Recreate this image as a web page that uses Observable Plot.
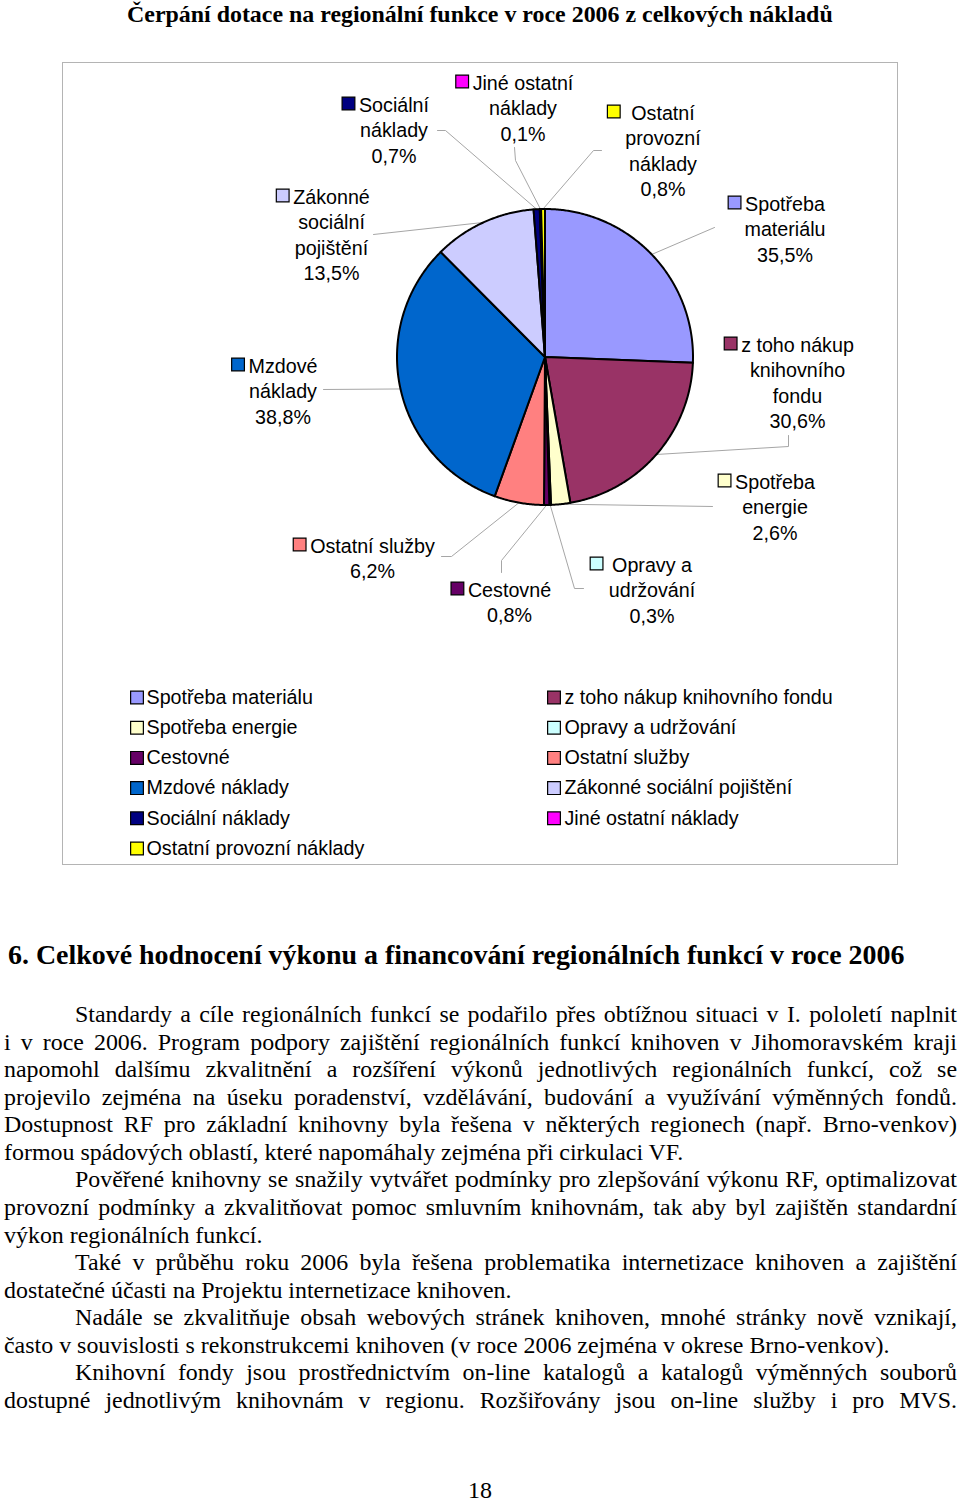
<!DOCTYPE html>
<html><head><meta charset="utf-8">
<script src="https://cdn.jsdelivr.net/npm/d3@7"></script>
<script src="https://cdn.jsdelivr.net/npm/@observablehq/plot@0.6"></script>
<style>
html,body{margin:0;padding:0;background:#fff}
body{width:960px;height:1501px;position:relative;overflow:hidden;font-family:"Liberation Serif","Times New Roman",serif;color:#000}
.abs{position:absolute;white-space:nowrap;line-height:1}
#title{font-weight:bold;font-size:24px}
#heading{font-weight:bold;font-size:27px}
#frame{position:absolute;left:62px;top:62px;width:836px;height:803px;border:1.5px solid #b4b4b4;box-sizing:border-box}
#chart{position:absolute;left:62px;top:62px}
#body{position:absolute;left:4px;top:1001px;width:953px}
.ln{height:27.57px;line-height:27.57px;text-align:justify;text-align-last:justify;overflow:visible}
.ln.last{text-align:left;text-align-last:left}
.ln.first{text-indent:71px}
</style></head>
<body>
<div id="title" class="abs">Čerpání dotace na regionální funkce v roce 2006 z celkových nákladů</div>
<div id="frame"></div>
<div id="chart"></div>
<div id="heading" class="abs">6. Celkové hodnocení výkonu a financování regionálních funkcí v roce 2006</div>
<div id="body"></div>
<div id="pageno" class="abs" style="font-size:24px">18</div>
<script>
// ---------- data ----------
const categories = ["Spotřeba materiálu","z toho nákup knihovního fondu","Spotřeba energie","Opravy a udržování","Cestovné","Ostatní služby","Mzdové náklady","Zákonné sociální pojištění","Sociální náklady","Jiné ostatní náklady","Ostatní provozní náklady"];
// percentages printed in the data labels
const percentLabels = [35.5, 30.6, 2.6, 0.3, 0.8, 6.2, 38.8, 13.5, 0.7, 0.1, 0.8];
// slice sizes as drawn in the picture (share of the full circle, %)
const sliceShares = [25.6, 21.6, 2.1, 0.17, 0.58, 5.4, 32.0, 11.2, 0.67, 0.14, 0.42];
// wrapped category names used in the data labels
const labelNames = ["Spotřeba\nmateriálu","z toho nákup\nknihovního\nfondu","Spotřeba\nenergie","Opravy a\nudržování","Cestovné","Ostatní služby","Mzdové\nnáklady","Zákonné\nsociální\npojištění","Sociální\nnáklady","Jiné ostatní\nnáklady","Ostatní\nprovozní\nnáklady"];

// ---------- styles / layout ----------
const sliceColors = ["#9999FF","#993366","#FFFFCC","#CCFFFF","#660066","#FF8080","#0066CC","#CCCCFF","#000080","#FF00FF","#FFFF00"];
const W = 836, H = 803, OX = 62, OY = 62;      // chart box in page coordinates
const pieGeom = {cx: 544.5, cy: 356.5, r: 148};
const FS = 19.7, LH = 25.6;
// label anchor (text centre x, first line centre y), square gap, leader bend points
const labelLayout = [
  {x:784.5, y:202, gap:4,  path:[[714,227]]},
  {x:797,   y:343, gap:4,  path:[[788,446],[788,435]]},
  {x:774.5, y:480, gap:4,  path:[[712,506]]},
  {x:651.5, y:563, gap:9,  path:[[574,588],[583,588]]},
  {x:509,   y:588, gap:4,  path:[[501,560],[501,572]]},
  {x:372,   y:544, gap:4,  path:[[451,556],[441,556]]},
  {x:282.5, y:364, gap:4,  path:[[323,389]]},
  {x:331,   y:195, gap:4,  path:[[373,234]]},
  {x:393.5, y:103, gap:4,  path:[[445,130],[437,130]]},
  {x:522.5, y:81,  gap:4,  path:[[515,160],[514,147]]},
  {x:662.5, y:111, gap:11, path:[[593,150],[601,150]]}
];
const legendLayout = {colX:[136.5, 553.5], textX:[146, 564], y0:697, dy:30.2};

// ---------- geometry ----------
const arcs = d3.pie().sort(null).value(d => d)(sliceShares);
const pt = (a, rr) => ({x: pieGeom.cx + rr * Math.sin(a), y: pieGeom.cy - rr * Math.cos(a)});
const polyRows = [];
arcs.forEach((a, i) => {
  polyRows.push({k:i, x:pieGeom.cx, y:pieGeom.cy});
  const n = Math.max(2, Math.ceil((a.endAngle - a.startAngle) / (Math.PI / 360)));
  for (let j = 0; j <= n; j++) {
    const ang = a.startAngle + (a.endAngle - a.startAngle) * j / n;
    polyRows.push({k:i, ...pt(ang, pieGeom.r)});
  }
  polyRows.push({k:i, x:pieGeom.cx, y:pieGeom.cy});
});
const leaderRows = [];
arcs.forEach((a, i) => {
  const mid = (a.startAngle + a.endAngle) / 2;
  leaderRows.push({k:i, ...pt(mid, pieGeom.r)});
  labelLayout[i].path.forEach(p => leaderRows.push({k:i, x:p[0], y:p[1]}));
});
const fmt = v => v.toFixed(1).replace(".", ",") + "%";
const ctx = document.createElement("canvas").getContext("2d");
ctx.font = `${FS}px "Liberation Sans"`;
const labelRows = categories.map((c, i) => {
  const text = labelNames[i] + "\n" + fmt(percentLabels[i]);
  const nLines = text.split("\n").length;
  const L = labelLayout[i];
  const w1 = ctx.measureText(text.split("\n")[0]).width;
  return {k:i, text, x:L.x, y:L.y + (nLines - 1) * LH / 2, sx: L.x - w1 / 2 - L.gap - 6.5, sy: L.y};
});
const legendRows = categories.map((c, i) => ({
  k:i, text:c,
  sx: legendLayout.colX[i % 2], tx: legendLayout.textX[i % 2],
  y: legendLayout.y0 + Math.floor(i / 2) * legendLayout.dy
}));

const chart = Plot.plot({
  width: W, height: H,
  margin: 0,
  x: {type:"linear", domain:[OX, OX + W], range:[0, W], axis:null},
  y: {type:"linear", domain:[OY, OY + H], range:[0, H], axis:null},
  color: {type:"identity"},
  style: {fontFamily:'"Liberation Sans", Arial, sans-serif', background:"transparent", overflow:"visible"},
  marks: [
    Plot.line(leaderRows, {x:"x", y:"y", z:"k", stroke:"#a6a6a6", strokeWidth:1}),
    Plot.line(polyRows, {x:"x", y:"y", z:"k", fill:d => sliceColors[d.k], stroke:"#000", strokeWidth:2, strokeLinejoin:"round"}),
    Plot.text(labelRows, {x:"x", y:"y", text:"text", fontSize:FS, lineHeight:LH / FS, textAnchor:"middle", lineAnchor:"middle", fill:"#000"}),
    Plot.dot(labelRows, {x:"sx", y:"sy", symbol:"square", r:7.2, fill:d => sliceColors[d.k], stroke:"#000", strokeWidth:1.2}),
    Plot.dot(legendRows, {x:"sx", y:"y", symbol:"square", r:7.2, fill:d => sliceColors[d.k], stroke:"#000", strokeWidth:1.2}),
    Plot.text(legendRows, {x:"tx", y:"y", text:"text", fontSize:FS, textAnchor:"start", fill:"#000"})
  ]
});
document.getElementById("chart").appendChild(chart);

// ---------- page text ----------
const paragraphs = [
  ["Standardy a cíle regionálních funkcí se podařilo přes obtížnou situaci v\u00a0I. pololetí naplnit",
   "i v\u00a0roce 2006. Program podpory zajištění regionálních funkcí knihoven v\u00a0Jihomoravském kraji",
   "napomohl dalšímu zkvalitnění a\u00a0rozšíření výkonů jednotlivých regionálních funkcí, což se",
   "projevilo zejména na\u00a0úseku poradenství, vzdělávání, budování a\u00a0využívání výměnných fondů.",
   "Dostupnost RF pro základní knihovny byla řešena v\u00a0některých regionech (např. Brno-venkov)",
   "formou spádových oblastí, které napomáhaly zejména při cirkulaci VF."],
  ["Pověřené knihovny se snažily vytvářet podmínky pro zlepšování výkonu RF, optimalizovat",
   "provozní podmínky a\u00a0zkvalitňovat pomoc smluvním knihovnám, tak aby byl zajištěn standardní",
   "výkon regionálních funkcí."],
  ["Také v\u00a0průběhu roku 2006 byla řešena problematika internetizace knihoven a\u00a0zajištění",
   "dostatečné účasti na Projektu internetizace knihoven."],
  ["Nadále se zkvalitňuje obsah webových stránek knihoven, mnohé stránky nově vznikají,",
   "často v\u00a0souvislosti s rekonstrukcemi knihoven (v roce 2006 zejména v\u00a0okrese Brno-venkov)."],
  ["Knihovní fondy jsou prostřednictvím on-line katalogů a\u00a0katalogů výměnných souborů",
   "dostupné jednotlivým knihovnám v\u00a0regionu. Rozšiřovány jsou on-line služby i\u00a0pro MVS."]
];
const justifyLast = [false, false, false, false, true];

function fitWidth(el, target) {
  const fs = parseFloat(getComputedStyle(el).fontSize);
  const w = el.getBoundingClientRect().width;
  el.style.fontSize = (fs * target / w) + "px";
  return fs * target / w;
}
// body font size calibrated on a natural (unjustified) line
const probe = document.createElement("span");
probe.className = "abs";
probe.style.fontSize = "24px";
probe.textContent = paragraphs[3][1];
document.body.appendChild(probe);
const bodyFS = fitWidth(probe, 886);
probe.remove();

const bodyDiv = document.getElementById("body");
bodyDiv.style.fontSize = bodyFS + "px";
paragraphs.forEach((p, pi) => {
  p.forEach((line, li) => {
    const d = document.createElement("div");
    d.className = "ln" + (li === 0 ? " first" : "") + (li === p.length - 1 && !justifyLast[pi] ? " last" : "");
    d.textContent = line;
    bodyDiv.appendChild(d);
    let ws = 0;
    while (d.scrollHeight > 30 && ws > -6) { ws -= 0.5; d.style.wordSpacing = ws + "px"; }
  });
});

const title = document.getElementById("title");
const tfs = fitWidth(title, 706);
title.style.left = "127px"; title.style.top = (15 - tfs * 0.5) + "px";
const heading = document.getElementById("heading");
const hfs = fitWidth(heading, 897);
heading.style.left = "8px"; heading.style.top = (955 - hfs * 0.5) + "px";
const pn = document.getElementById("pageno");
pn.style.left = (480 - pn.getBoundingClientRect().width / 2) + "px";
pn.style.top = (1490 - 12) + "px";
</script>
</body></html>
